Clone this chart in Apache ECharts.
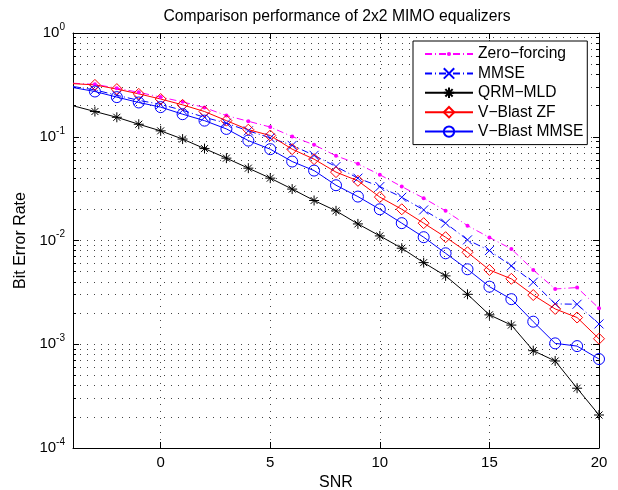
<!DOCTYPE html>
<html><head><meta charset="utf-8">
<script src="https://cdn.jsdelivr.net/npm/echarts@6/dist/echarts.min.js"></script>
<style>html,body{margin:0;padding:0;background:#fff}#c{width:618px;height:490px}</style>
</head><body><div id="c"></div>
<script>
const snr = [-4,-3,-2,-1,0,1,2,3,4,5,6,7,8,9,10,11,12,13,14,15,16,17,18,19,20];
const zeroForcing = [0.328,0.320,0.294,0.268,0.241,0.217,0.191,0.160,0.141,0.124,0.1005,0.0836,0.0655,0.0548,0.0430,0.0331,0.0256,0.0193,0.0139,0.0107,0.0083,0.0052,0.00341,0.00352,0.00222];
const mmse = [0.305,0.283,0.251,0.2245,0.205,0.180,0.154,0.135,0.114,0.0975,0.0826,0.0662,0.0516,0.0399,0.0331,0.0261,0.0197,0.0147,0.01014,0.0080,0.00569,0.00396,0.00245,0.00243,0.00157];
const qrmMld = [0.199,0.175,0.154,0.132,0.114,0.095,0.0769,0.0622,0.0498,0.0399,0.0313,0.0243,0.0193,0.01445,0.01107,0.00843,0.00612,0.00456,0.00303,0.00192,0.00153,0.000867,0.00069,0.000377,0.000208];
const vblastZF = [0.325,0.316,0.288,0.259,0.231,0.203,0.175,0.143,0.117,0.1028,0.0759,0.0608,0.0456,0.0376,0.0262,0.0200,0.0147,0.01076,0.0077,0.0052,0.00427,0.00298,0.00219,0.00181,0.00113];
const vblastMMSE = [0.298,0.273,0.241,0.214,0.193,0.165,0.143,0.119,0.0918,0.0759,0.0577,0.0472,0.0341,0.0265,0.0200,0.0147,0.01076,0.00753,0.00528,0.00359,0.00272,0.00165,0.00102,0.00096,0.00072];
const xTicks = [0,5,10,15,20];
const yMajorTicks = [1e-4,1e-3,1e-2,1e-1,1];
const legendNames = ['Zero\u2212forcing','MMSE','QRM\u2212MLD','V\u2212Blast ZF','V\u2212Blast MMSE'];

const yMinorTicks = [];
for (let d = -4; d <= -1; d++) for (let k = 2; k <= 9; k++) yMinorTicks.push(Number((k*Math.pow(10,d)).toPrecision(3)));

const FONT = 'Liberation Sans, Arial, Helvetica, sans-serif';
const axisCol = '#000';
const gridLine = {show:true, lineStyle:{color:'#444', width:1, type:[1,6]}};

// symbol shapes (unit boxes 0..10)
const DOT = 'path://M0,0M10,10M3,5A2,2 0 1,0 7,5A2,2 0 1,0 3,5Z';
const CROSS = 'path://M0,0L10,10M10,0L0,10';
const STAR = 'path://M5,0L5,10M0,5L10,5M1.5,1.5L8.5,8.5M8.5,1.5L1.5,8.5';

function mk(name, vals, color, dash, symbol, size, filled) {
  return {
    name: name, type: 'line',
    data: snr.map((x,i) => i === 0 ? {value:[x, vals[i]], symbol:'none'} : [x, vals[i]]),
    symbol: symbol, symbolSize: size, showAllSymbol: true,
    lineStyle: {color: color, width: 1, type: dash},
    itemStyle: filled ? {color: color} : {color: 'rgba(255,255,255,0)', borderColor: color, borderWidth: 1},
    emphasis: {disabled: true}, silent: true, animation: false
  };
}

const yLabelFmt = v => '{b|10}{s|' + Math.round(Math.log10(v)) + '}';
const yRich = {b:{fontSize:15, fontFamily:FONT, color:'#000'}, s:{fontSize:10, fontFamily:FONT, color:'#000', padding:[0,0,12,0]}};

function yAx(pos, ticks, len, showLine, split, labels) {
  return {
    type:'log', logBase:10, min:1e-4, max:1, position:pos,
    axisLine:{show:showLine, onZero:false, lineStyle:{color:axisCol, width:1}},
    axisTick:{show:true, inside:true, length:len, customValues:ticks, lineStyle:{color:axisCol}},
    axisLabel: labels ? {show:true, customValues:yMajorTicks, formatter:yLabelFmt, rich:yRich, margin:8} : {show:false},
    splitLine: split ? gridLine : {show:false},
    minorTick:{show:false}, minorSplitLine:{show:false}
  };
}

const chart = echarts.init(document.getElementById('c'), null, {renderer:'canvas'});
chart.setOption({
  animation:false,
  backgroundColor:'#fff',
  textStyle:{fontFamily:FONT},
  title:{text:'Comparison performance of 2x2 MIMO equalizers', left:332, top:4, textAlign:'center',
    textStyle:{fontSize:15.7, fontWeight:'normal', color:'#000', fontFamily:FONT}},
  grid:{left:73, right:19, top:33, bottom:42, containLabel:false, outerBoundsMode:'none'},
  legend:{
    orient:'vertical', left:413, top:41, data:legendNames,
    itemWidth:48, itemHeight:13, itemGap:3.4,
    padding:[5,4,5,11],
    backgroundColor:'#fff', borderColor:'#000', borderWidth:1, borderRadius:0,
    textStyle:{fontSize:15.6, lineHeight:16, color:'#000', fontFamily:FONT},
    selectedMode:false
  },
  xAxis:[
    {type:'value', min:-4, max:20, position:'bottom',
     axisLine:{show:true, onZero:false, lineStyle:{color:axisCol}},
     axisTick:{show:true, inside:true, length:6, customValues:xTicks, lineStyle:{color:axisCol}},
     axisLabel:{show:true, customValues:xTicks, fontSize:15, color:'#000', margin:7, fontFamily:FONT},
     splitLine:gridLine,
     name:'SNR', nameLocation:'middle', nameGap:18, nameTextStyle:{fontSize:16, color:'#000', fontFamily:FONT}},
    {type:'value', min:-4, max:20, position:'top',
     axisLine:{show:true, onZero:false, lineStyle:{color:axisCol}},
     axisTick:{show:true, inside:true, length:6, customValues:xTicks, lineStyle:{color:axisCol}},
     axisLabel:{show:false}, splitLine:{show:false}}
  ],
  yAxis:[
    Object.assign(yAx('left', yMajorTicks, 6, true, true, true),
      {name:'Bit Error Rate', nameLocation:'middle', nameGap:44, nameTextStyle:{fontSize:16, color:'#000', fontFamily:FONT}}),
    yAx('left', yMinorTicks, 3, false, true, false),
    yAx('right', yMajorTicks, 6, true, false, false),
    yAx('right', yMinorTicks, 3, false, false, false)
  ],
  series:[
    mk(legendNames[0], zeroForcing, '#ff00ff', [7,3,1,3], DOT, 10, true),
    mk(legendNames[1], mmse, '#0000ff', [7,3,1,3], CROSS, 9, false),
    mk(legendNames[2], qrmMld, '#000000', 'solid', STAR, 10, false),
    mk(legendNames[3], vblastZF, '#ff0000', 'solid', 'diamond', 11, false),
    mk(legendNames[4], vblastMMSE, '#0000ff', 'solid', 'circle', 11, false)
  ]
});
</script>
</body></html>
